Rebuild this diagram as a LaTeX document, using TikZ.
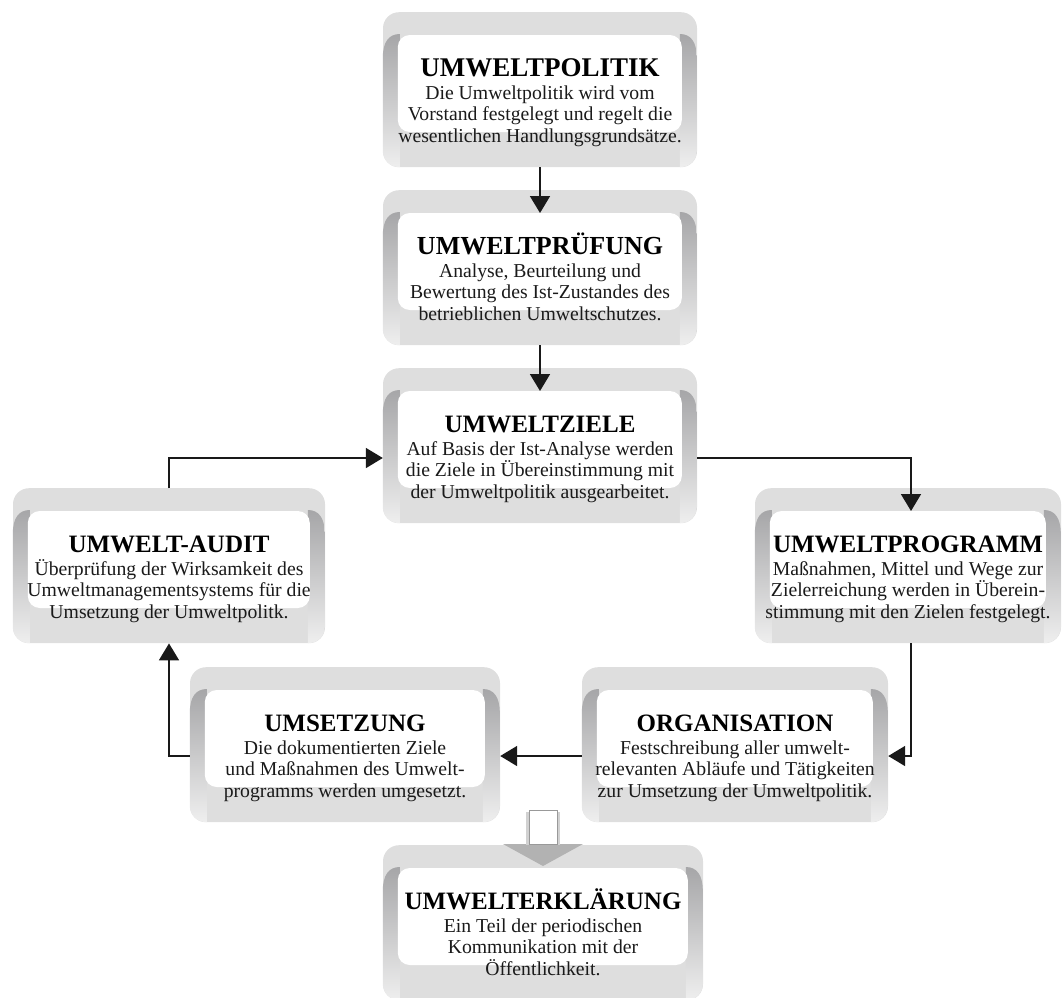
\documentclass[tikz,border=0pt]{standalone}
\usepackage{fontspec}
\setmainfont{Liberation Serif}
\usetikzlibrary{calc,arrows.meta}
\definecolor{keyband}{HTML}{DEDEDE}
\definecolor{keyside}{HTML}{A6A6A8}
\definecolor{keytext}{HTML}{1A1A1A}
\tikzset{
  keyframe/.style={fill=keyband, rounded corners=16pt, inner sep=0pt,
    minimum height=155pt, anchor=north},
  keytitle/.style={anchor=base, inner sep=0pt,
    font=\fontsize{#1}{#1}\selectfont\bfseries, text=black},
  keyline/.style={anchor=base, inner sep=0pt,
    font=\fontsize{19.7}{20}\selectfont, text=keytext},
  conn/.style={draw=black!90, line width=1.8pt,
    -{Triangle[length=17pt,width=20pt]}},
}
% a key-shaped box: name, centre x, top y, width, title size, title, three text lines
\newcommand\keybox[9]{%
  \node[keyframe, minimum width=#4pt] (#1) at (#2,#3) {};
  \begin{scope}[shift={(#1.north west)}]
    \begin{scope}
      \clip[rounded corners=16pt] (0,0) rectangle (#4,155);
      \shade[top color=keyside, bottom color=keyband!50]
        (0,46) .. controls (0,30) and (6,22) .. (17,22) -- (17,155) -- (0,155) -- cycle;
      \shade[top color=keyside, bottom color=keyband!50]
        (#4,46) .. controls (#4,30) and (#4-6,22) .. (#4-17,22) -- (#4-17,155) -- (#4,155) -- cycle;
    \end{scope}
    \fill[white, rounded corners=12pt] (15,23) rectangle (#4-15,120);
  \end{scope}
  \node[keytitle=#5] (#1-title) at ($(#1.north)+(0,64)$) {#6};
  \node[keyline] (#1-a) at ($(#1.north)+(0,87)$) {#7};
  \node[keyline] (#1-b) at ($(#1.north)+(0,108.5)$) {#8};
  \node[keyline] (#1-c) at ($(#1.north)+(0,130)$) {#9};
}
\begin{document}
\begin{tikzpicture}[x=1pt,y=-1pt]
\useasboundingbox (0,0) rectangle (1062,997);

\keybox{p1}{540}{12}{314}{27}{UMWELTPOLITIK}
  {Die Umweltpolitik wird vom}
  {Vorstand festgelegt und regelt die}
  {wesentlichen Handlungsgrundsätze.}
\keybox{p2}{540}{190}{314}{26}{UMWELTPRÜFUNG}
  {Analyse, Beurteilung und}
  {Bewertung des Ist-Zustandes des}
  {betrieblichen Umweltschutzes.}
\keybox{p3}{540}{368}{314}{25}{UMWELTZIELE}
  {Auf Basis der Ist-Analyse werden}
  {die Ziele in Übereinstimmung mit}
  {der Umweltpolitik ausgearbeitet.}
\keybox{p4}{169}{488}{312}{25}{UMWELT-AUDIT}
  {Überprüfung der Wirksamkeit des}
  {Umweltmanagementsystems für die}
  {Umsetzung der Umweltpolitk.}
\keybox{p5}{908}{488}{306}{25}{UMWELTPROGRAMM}
  {Maßnahmen, Mittel und Wege zur}
  {Zielerreichung werden in Überein-}
  {stimmung mit den Zielen festgelegt.}
\keybox{p6}{345}{667}{310}{25}{UMSETZUNG}
  {Die dokumentierten Ziele}
  {und Maßnahmen des Umwelt-}
  {programms werden umgesetzt.}
\keybox{p7}{735}{667}{306}{25}{ORGANISATION}
  {Festschreibung aller umwelt-}
  {relevanten Abläufe und Tätigkeiten}
  {zur Umsetzung der Umweltpolitik.}
\keybox{p8}{543}{845}{320}{25}{UMWELTERKLÄRUNG}
  {Ein Teil der periodischen}
  {Kommunikation mit der}
  {Öffentlichkeit.}

% hollow block arrow into the statement box
\fill[black!30] (503,844) -- (583,844) -- (543,866) -- cycle;
\fill[black!18] (526,812) -- (560,812) -- (560,845) -- (526,845) -- cycle;
\filldraw[fill=white, draw=black!40, line width=0.6pt] (529,810) rectangle (557,844);

% connectors
\coordinate (z-in)  at ($(p3.north west)+(0,90)$);
\coordinate (z-out) at ($(p3.north east)+(0,90)$);
\coordinate (g-in)  at ($(p5.north)+(3,23)$);
\coordinate (g-out) at ($(p5.south)+(3,0)$);
\coordinate (o-in)  at ($(p7.north east)+(0,89)$);
\coordinate (o-out) at ($(p7.north west)+(0,89)$);
\coordinate (u-in)  at ($(p6.north east)+(0,89)$);
\coordinate (u-out) at ($(p6.north west)+(0,89)$);

\draw[conn] (p1.south) -- ($(p2.north)+(0,23)$);
\draw[conn] (p2.south) -- ($(p3.north)+(0,23)$);
\draw[conn] (z-out) -| (g-in);
\draw[conn] (g-out) |- (o-in);
\draw[conn] (o-out) -- (u-in);
\draw[conn] (u-out) -| (p4.south);
\draw[conn] (p4.north) |- (z-in);
\end{tikzpicture}
\end{document}
